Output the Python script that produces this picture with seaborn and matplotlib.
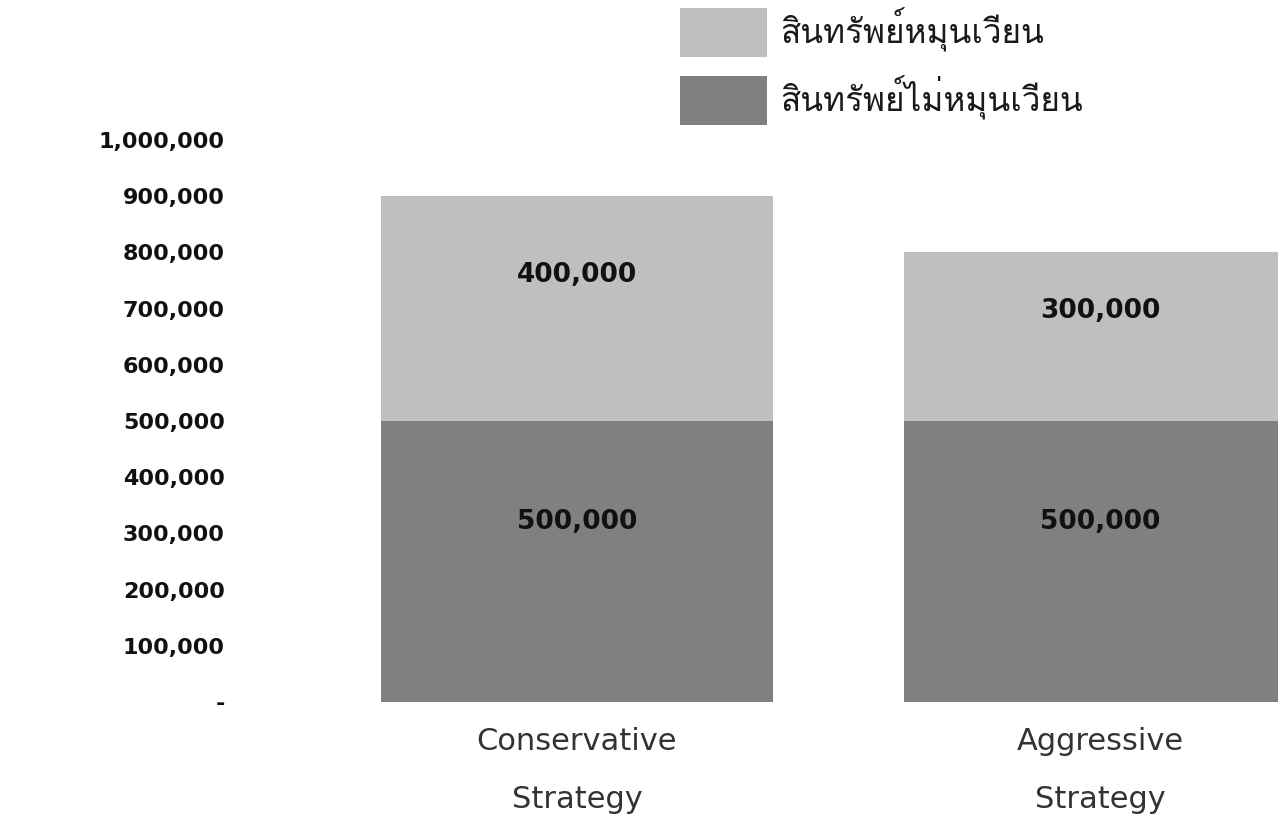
import matplotlib
matplotlib.use("Agg")
import matplotlib.pyplot as plt
import seaborn as sns
import pandas as pd
from matplotlib import font_manager as fm
from matplotlib.ft2font import FT2Font
from matplotlib.patches import Patch
from matplotlib.ticker import FuncFormatter

# Data
strategies = ["Conservative\nStrategy", "Aggressive\nStrategy"]
current_assets = [400000, 300000]        # สินทรัพย์หมุนเวียน
noncurrent_assets = [500000, 500000]     # สินทรัพย์ไม่หมุนเวียน
legend_labels = ["สินทรัพย์หมุนเวียน", "สินทรัพย์ไม่หมุนเวียน"]
y_ticks = [0, 100000, 200000, 300000, 400000, 500000,
           600000, 700000, 800000, 900000, 1000000]

LIGHT = "#bfbfbf"
DARK = "#808080"

sns.set_theme(style="white")


def _covers(path, text):
    try:
        cmap = FT2Font(path).get_charmap()
    except Exception:
        return False
    return all(ord(c) in cmap for c in text if not c.isspace())


# pick an installed family that has the Thai glyphs
thai_chars = "".join(legend_labels)
thai_family = None
for fe in fm.fontManager.ttflist:
    if _covers(fe.fname, thai_chars):
        thai_family = fe.name
        break

families = ([thai_family] if thai_family else []) + ["DejaVu Sans"]
plt.rcParams["font.family"] = families

df = pd.DataFrame({
    "strategy": strategies,
    "current": current_assets,
    "noncurrent": noncurrent_assets,
})
df["total"] = df["current"] + df["noncurrent"]

W, H = 1278, 819
fig = plt.figure(figsize=(W / 100, H / 100), dpi=100)
ax_left, ax_right = 240, 1278
ax_top, ax_bot = 140, 702
ax = fig.add_axes([ax_left / W, 1 - ax_bot / H,
                   (ax_right - ax_left) / W, (ax_bot - ax_top) / H])

sns.barplot(data=df, x="strategy", y="total", color=LIGHT, width=0.75,
            saturation=1, linewidth=0, edgecolor="none", ax=ax, zorder=2)
sns.barplot(data=df, x="strategy", y="noncurrent", color=DARK, width=0.75,
            saturation=1, linewidth=0, edgecolor="none", ax=ax, zorder=3)

# Value labels inside each segment
light_bars = ax.containers[0]
dark_bars = ax.containers[1]
label_kw = dict(ha="center", va="center", fontsize=19, fontweight="bold",
                color="#111111", family="DejaVu Sans", zorder=4)
for rect, val in zip(light_bars, df["current"]):
    bottom = rect.get_height() - val
    ax.text(rect.get_x() + rect.get_width() / 2, bottom + val * 0.65,
            f"{val:,.0f}", **label_kw)
for rect, val in zip(dark_bars, df["noncurrent"]):
    ax.text(rect.get_x() + rect.get_width() / 2, val * 0.64,
            f"{val:,.0f}", **label_kw)

unit_px = 523
x0 = -(577 - ax_left) / unit_px
ax.set_xlim(x0, x0 + (ax_right - ax_left) / unit_px)
ax.set_ylim(0, 1000000)
ax.set_yticks(y_ticks)
ax.yaxis.set_major_formatter(FuncFormatter(lambda v, p: "-" if v == 0 else f"{v:,.0f}"))
for lab in ax.get_yticklabels():
    lab.set_fontweight("bold")
    lab.set_family("DejaVu Sans")
ax.tick_params(axis="y", length=0, pad=11, labelsize=16, labelcolor="#111111")
ax.tick_params(axis="x", length=0, pad=18, labelsize=22, labelcolor="#333333")
for lab in ax.get_xticklabels():
    lab.set_linespacing(2.25)
    lab.set_family("DejaVu Sans")
ax.set_xlabel("")
ax.set_ylabel("")
for s in ax.spines.values():
    s.set_visible(False)
ax.grid(False)

handles = [Patch(facecolor=LIGHT, edgecolor="none"),
           Patch(facecolor=DARK, edgecolor="none")]
leg = fig.legend(handles, legend_labels, loc="upper left",
                 bbox_to_anchor=(677 / W, 1 - 4 / H), frameon=False,
                 fontsize=24, handlelength=2.6, handleheight=1.9,
                 labelspacing=0.55, handletextpad=0.4, borderaxespad=0,
                 borderpad=0.1, labelcolor="#1a1a1a")

fig.savefig("out.png", dpi=100)
